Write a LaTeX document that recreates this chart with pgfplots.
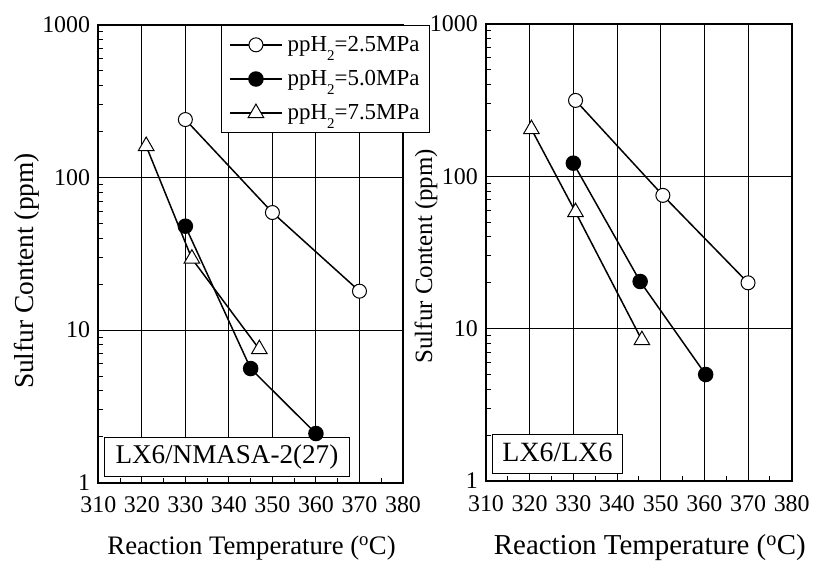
\documentclass[border=0pt]{standalone}
\usepackage{fontspec}
\setmainfont{Liberation Serif}
\usepackage{pgfplots}
\pgfplotsset{compat=1.18}

% lowered subscript used in the legend entries
\newcommand{\sub}[1]{\raisebox{-0.38em}{\fontsize{15}{15}\selectfont #1}}

\pgfplotsset{
  sulfuraxis/.style={
    scale only axis,
    xmin=310, xmax=380, ymin=1, ymax=1000,
    xtick={310,320,...,380},
    minor xtick={315,325,...,375},
    ytick={1,10,100,1000},
    yticklabels={1,10,100,1000},
    minor ytick={2,3,...,9,20,30,...,90,200,300,...,900},
    xtick pos=bottom, ytick pos=left,
    tick align=inside,
    major tick length=8bp, minor tick length=5bp,
    tick style={black, line width=1bp},
    grid=major,
    major grid style={black, line width=1bp},
    axis line style={black, line width=1.6bp},
    /pgf/number format/assume math mode=true,
    tick label style={font=\fontsize{24}{28}\selectfont},
    xticklabel style={inner sep=0pt, anchor=north, yshift=-14bp},
    yticklabel style={inner sep=0pt, anchor=east, xshift=-8bp},
    xlabel={Reaction Temperature (\textsuperscript{o}C)},
    ylabel={Sulfur Content (ppm)},
    clip=false,
  },
}
\tikzset{
  lowp/.style={black, line width=1.5bp, mark=*, mark size=7bp,
    mark options={fill=white, draw=black, line width=1bp, solid}},
  midp/.style={black, line width=1.5bp, mark=*, mark size=7bp,
    mark options={fill=black, draw=black, solid}},
  highp/.style={black, line width=1.5bp, mark=triangle*, mark size=9bp,
    mark options={fill=white, draw=black, line width=1bp, solid}},
  tagbox/.style={draw=black, fill=white, line width=1bp, anchor=south west,
    inner ysep=6.5bp, text height=20bp, text depth=6bp},
}

\begin{document}
\begin{tikzpicture}
\useasboundingbox (0bp,0bp) rectangle (814bp,569bp);

% Catalyst LX6/NMASA-2(27)
\begin{axis}[ymode=log, sulfuraxis,
  at={(98.3bp,86.3bp)}, anchor=south west,
  width=304.7bp, height=457.7bp,
  xlabel style={at={(axis description cs:0.503,-0.1427)}, anchor=center,
    font=\fontsize{26.8}{30}\selectfont},
  ylabel style={at={(axis description cs:-0.234,0.4625)}, anchor=center,
    rotate=0, font=\fontsize{27.5}{32}\selectfont},
  legend cell align=left,
  legend image code/.code={
    \draw[mark repeat=2, mark phase=2, #1]
      plot coordinates {(0bp,0bp) (26bp,0bp) (52bp,0bp)};},
  legend style={at={(rel axis cs:0.4017,1)}, anchor=north west,
    draw=black, line width=1bp, fill=white,
    font=\fontsize{23}{27}\selectfont,
    inner xsep=8bp, inner ysep=9bp, row sep=13.5bp,
    /tikz/every odd column/.append style={column sep=3bp}},
]
\addplot[lowp] coordinates {(330,240) (350,59) (370,18)};
\addlegendentry{ppH\sub{2}=2.5MPa}
\addplot[midp] coordinates {(330,48) (345,5.6) (360,2.1)};
\addlegendentry{ppH\sub{2}=5.0MPa}
\addplot[highp] coordinates {(321,161) (331.5,29.4) (347,7.5)};
\addlegendentry{ppH\sub{2}=7.5MPa}
\node[tagbox, inner xsep=11bp, font=\fontsize{27.2}{31}\selectfont]
  at (rel axis cs:0.0187,0.0125) {LX6/NMASA-2(27)};
\end{axis}

% Catalyst LX6/LX6
\begin{axis}[ymode=log, sulfuraxis,
  at={(486bp,88bp)}, anchor=south west,
  width=305.7bp, height=457bp,
  xlabel style={at={(axis description cs:0.536,-0.1466)}, anchor=center,
    font=\fontsize{29}{33}\selectfont},
  ylabel style={at={(axis description cs:-0.196,0.492)}, anchor=center,
    rotate=0, font=\fontsize{25}{30}\selectfont},
]
\addplot[lowp] coordinates {(330.5,315) (350.5,75) (370,20)};
\addplot[midp] coordinates {(330,122) (345.3,20.4) (360.3,5.0)};
\addplot[highp] coordinates {(320.4,204) (330.5,58.2) (345.7,8.4)};
\node[tagbox, inner xsep=10bp, font=\fontsize{28}{32}\selectfont]
  at (rel axis cs:0.0196,0.0153) {LX6/LX6};
\end{axis}
\end{tikzpicture}
\end{document}
